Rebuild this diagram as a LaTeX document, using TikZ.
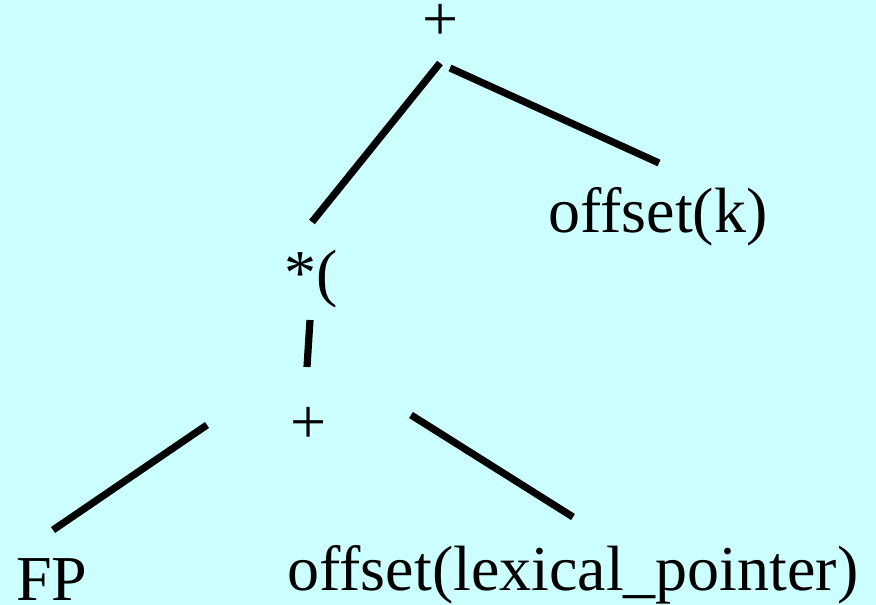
\documentclass[tikz,border=0pt]{standalone}
\usepackage{fontspec}
\setmainfont{Liberation Serif}
\usetikzlibrary{positioning}
\definecolor{SlideBg}{HTML}{CCFFFF}

\begin{document}
\begin{tikzpicture}[x=0.75pt,y=-0.75pt,
    lbl/.style={inner sep=0pt, anchor=base, font=\fontsize{48}{50}\selectfont},
    branch/.style={line width=5.4pt, black}]
  \fill[SlideBg] (0,0) rectangle (876,605);
  \useasboundingbox (0,0) rectangle (876,605);
  % tree nodes
  \node[lbl] (top)   at (441,41)  {+};
  \node[lbl] (offk)  at (658,233) {offset(k)};
  \node[lbl] (star)  at (311,295) {*(};
  \node[lbl] (plus)  at (309,444) {+};
  \node[lbl] (fp)    at (52,601)  {FP};
  \node[lbl] (lexp)  at (573,591) {offset(lexical\_pointer)};
  % branches
  \draw[branch] ([shift={(-1,22)}]top.base) -- ([shift={(1,-73)}]star.base);
  \draw[branch] ([shift={(9,27)}]top.base) -- ([shift={(1,-70)}]offk.base);
  \draw[branch] ([shift={(-1,25)}]star.base) -- ([shift={(-2,-77)}]plus.base);
  \draw[branch] ([shift={(-102,-19)}]plus.base) -- ([shift={(1,-71)}]fp.base);
  \draw[branch] ([shift={(102,-29)}]plus.base) -- ([shift={(0,-74)}]lexp.base);
\end{tikzpicture}
\end{document}
